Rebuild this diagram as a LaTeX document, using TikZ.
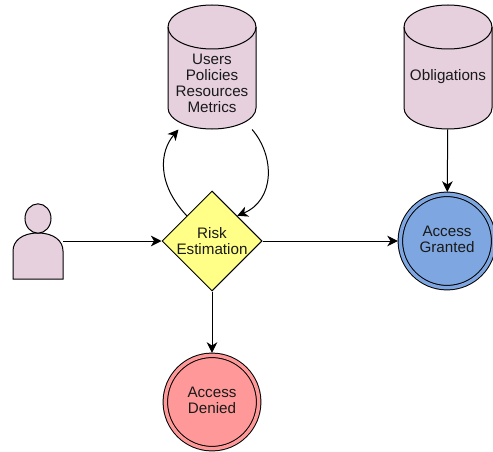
\documentclass[tikz,border=0pt]{standalone}
\usepackage{fontspec}
\setmainfont{Liberation Sans}
\usetikzlibrary{shapes.geometric,arrows.meta}
\definecolor{storefill}{HTML}{E6D0DE}
\definecolor{riskfill}{HTML}{FFFF88}
\definecolor{grantfill}{HTML}{7EA6E0}
\definecolor{denyfill}{HTML}{FF9999}

\begin{document}
\begin{tikzpicture}[x=.75pt,y=.75pt,line width=.75pt,>={Stealth[length=8pt,width=8pt,inset=2.4pt]},
  every node/.style={font=\fontsize{11.4}{12}\selectfont,align=center,inner sep=0pt,text=black!90,text depth=2.4pt},
  store/.style={minimum width=66pt},
  final/.style={circle,draw,double distance=2.6pt,minimum size=70pt,outer sep=1.8pt}]
  \useasboundingbox (0,0) rectangle (493,451);
  % cylinders
  \foreach \x in {212,448} {
    \draw[fill=storefill] (\x-44,424) -- (\x-44,343) arc[start angle=180,end angle=360,x radius=44,y radius=21]
      -- (\x+44,424) arc[start angle=0,end angle=180,x radius=44,y radius=22] -- cycle;
    \draw (\x-44,424) arc[start angle=180,end angle=360,x radius=44,y radius=22];
  }
  \node[store,minimum height=66pt] (U) at (212,366) {Users\\Policies\\Resources\\Metrics};
  \node[store,minimum height=78pt] (O) at (448,374) {Obligations};
  \node[diamond,draw,fill=riskfill,aspect=1,minimum size=75pt,text depth=0pt] (R) at (212,210) {Risk\\Estimation};
  \node[final,double=grantfill,fill=grantfill] (G) at (447,210) {Access\\Granted};
  \node[final,double=denyfill,fill=denyfill] (D) at (212,49) {Access\\Denied};
  % person
  \draw[fill=storefill] (13,172) -- (13,200) .. controls (13,210) and (22,218) .. (38,218)
    .. controls (54,218) and (63,210) .. (63,200) -- (63,172) -- cycle;
  \node[ellipse,draw,fill=storefill,minimum width=19.5pt,minimum height=22pt] (H) at (38,232.5) {};
  \coordinate (P) at (63,210);
  \draw[->] (P) -- (R);
  \draw[->] (R) -- (G);
  \draw[->] (R) -- (D);
  \draw[->] (O) -- (G);
  \draw[->] (R.135) .. controls (156,268) and (160,300) .. (U.233);
  \draw[->] (U.312) .. controls (275,295) and (275,251) .. (R.45);
\end{tikzpicture}
\end{document}
